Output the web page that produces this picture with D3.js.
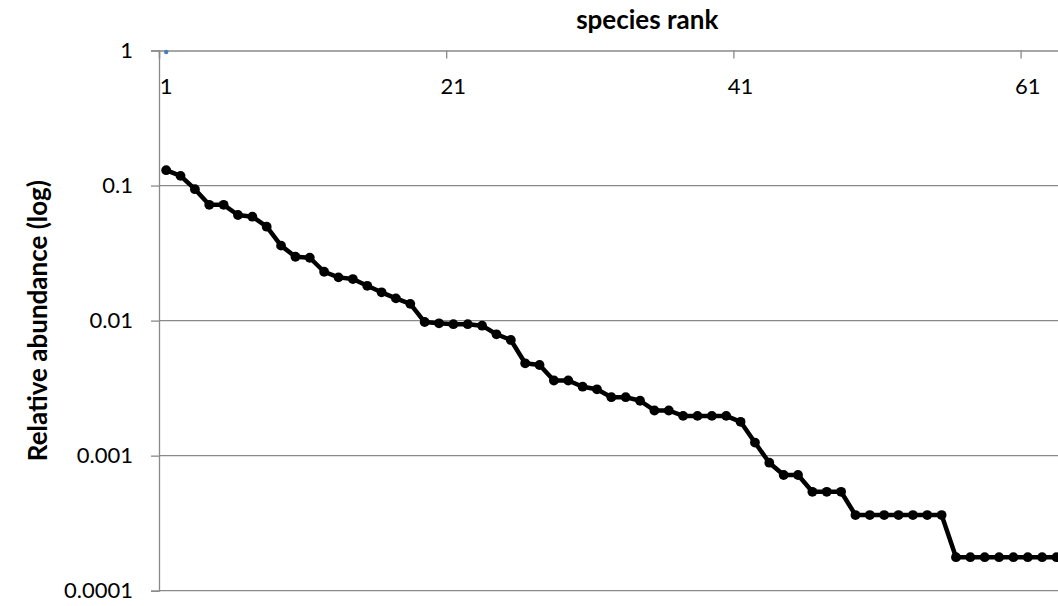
<!DOCTYPE html>
<html>
<head>
<meta charset="utf-8">
<script src="https://cdn.jsdelivr.net/npm/d3@7"></script>
<style>
  html, body { margin: 0; padding: 0; background: #ffffff; overflow: hidden; }
  svg { display: block; }
  text { font-family: Lato, "Noto Sans", sans-serif; fill: #000; }
</style>
</head>
<body>
<svg id="chart" width="1058" height="606"></svg>
<script>
// Relative abundance of each species, ordered by rank (rank = position + 1)
const abundance = [
  0.130, 0.118, 0.094, 0.072, 0.072, 0.0605, 0.0588, 0.0496, 0.0359, 0.0297,
  0.0292, 0.0230, 0.0209, 0.0203, 0.0181, 0.0162, 0.0146, 0.0133, 0.00976, 0.00955,
  0.00941, 0.00941, 0.00917, 0.00792, 0.00719, 0.00483, 0.00469, 0.00360, 0.00360, 0.00324,
  0.00310, 0.00271, 0.00271, 0.00255, 0.00216, 0.00216, 0.00197, 0.00197, 0.00197, 0.00197,
  0.00178, 0.00125, 0.000887, 0.000719, 0.000719, 0.000540, 0.000540, 0.000540, 0.000363, 0.000363,
  0.000363, 0.000363, 0.000363, 0.000363, 0.000363, 0.000177, 0.000177, 0.000177, 0.000177, 0.000177,
  0.000177, 0.000177, 0.000177
];
// Second series: a single point at rank 1
const markerSeries = [1];

// Axis categories and tick labels
const categoryCount = 68;
const xTickLabels = ["1", "21", "41", "61"];
const yTickValues = [1, 0.1, 0.01, 0.001, 0.0001];
const yTickLabels = ["1", "0.1", "0.01", "0.001", "0.0001"];

const svg = d3.select("#chart");
const plot = { left: 159, top: 50.5, bottom: 590.7, step: 14.36 };
plot.right = plot.left + categoryCount * plot.step;

const x = d3.scaleLinear()
  .domain([0.5, categoryCount + 0.5])
  .range([plot.left, plot.right]);
const y = d3.scaleLog()
  .domain([0.0001, 1])
  .range([plot.bottom, plot.top]);

const gray = "#898989";

// Horizontal gridlines
svg.append("g")
  .selectAll("line")
  .data(yTickValues.slice(1))
  .join("line")
  .attr("x1", plot.left).attr("x2", plot.right)
  .attr("y1", d => y(d)).attr("y2", d => y(d))
  .attr("stroke", gray).attr("stroke-width", 1.3);

// Value axis (left)
const yAxis = svg.append("g")
  .attr("transform", `translate(${plot.left},0)`)
  .call(d3.axisLeft(y)
    .tickValues(yTickValues)
    .tickSize(8)
    .tickPadding(18)
    .tickFormat((d, i) => yTickLabels[i]));
yAxis.select(".domain").attr("stroke", gray).attr("stroke-width", 1.3);
yAxis.selectAll(".tick line").attr("stroke", gray).attr("stroke-width", 1.3);
yAxis.selectAll(".tick text")
  .attr("font-family", "Lato, 'Noto Sans', sans-serif")
  .attr("font-size", 22)
  .attr("fill", "#000");

// Category axis (top, crossing at 1) with ticks between categories
const xTickRanks = xTickLabels.map(Number);
const xAxis = svg.append("g")
  .attr("transform", `translate(0,${plot.top})`)
  .call(d3.axisBottom(x)
    .tickValues(xTickRanks.map(r => r - 0.5))
    .tickSize(8)
    .tickFormat(""));
xAxis.select(".domain").attr("stroke", gray).attr("stroke-width", 1.3);
xAxis.selectAll(".tick line").attr("stroke", gray).attr("stroke-width", 1.3);

svg.append("g")
  .selectAll("text")
  .data(xTickLabels)
  .join("text")
  .attr("x", d => x(+d))
  .attr("y", plot.top + 43)
  .attr("text-anchor", "middle")
  .attr("font-size", 22)
  .text(d => d);

// Single-point series
svg.append("g")
  .selectAll("circle")
  .data(markerSeries)
  .join("circle")
  .attr("cx", (d, i) => x(i + 1))
  .attr("cy", d => y(d) + 1.5)
  .attr("r", 2.2)
  .attr("fill", "#4a7ebb");

// Abundance curve
const line = d3.line()
  .x((d, i) => x(i + 1))
  .y(d => y(d));

svg.append("path")
  .datum(abundance)
  .attr("d", line)
  .attr("fill", "none")
  .attr("stroke", "#000")
  .attr("stroke-width", 4.5)
  .attr("stroke-linejoin", "round");

svg.append("g")
  .selectAll("circle")
  .data(abundance)
  .join("circle")
  .attr("cx", (d, i) => x(i + 1))
  .attr("cy", d => y(d))
  .attr("r", 4.9)
  .attr("fill", "#000");

// Axis titles
svg.append("text")
  .attr("x", (plot.left + plot.right) / 2)
  .attr("y", 28.5)
  .attr("text-anchor", "middle")
  .attr("font-size", 26)
  .attr("font-weight", "bold")
  .text("species rank");

svg.append("text")
  .attr("transform", `translate(46.5,${(plot.top + plot.bottom) / 2}) rotate(-90)`)
  .attr("text-anchor", "middle")
  .attr("font-size", 26)
  .attr("font-weight", "bold")
  .text("Relative abundance (log)");
</script>
</body>
</html>
